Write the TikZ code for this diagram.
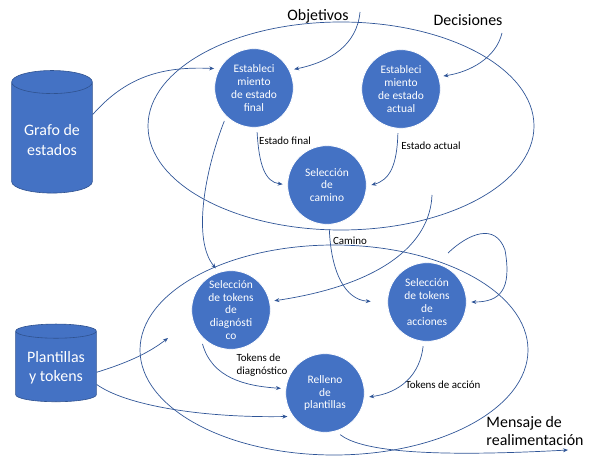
\documentclass[tikz,border=0pt]{standalone}
\usepackage{fontspec}
\setmainfont{Carlito}
\usepackage{tikz}
\usetikzlibrary{shapes.geometric,arrows.meta}

\definecolor{officeblue}{RGB}{68,114,196}
\definecolor{linkblue}{RGB}{47,85,151}
\definecolor{edgeblue}{RGB}{47,82,143}

\tikzset{
  proc/.style={circle,fill=officeblue,draw=white,line width=0.8pt,minimum size=79pt,
    inner sep=0pt,outer sep=5pt,text=white,align=center,font=\fontsize{11.5}{12.8}\selectfont},
  store/.style={cylinder,shape border rotate=90,fill=officeblue,draw=edgeblue,line width=0.6pt,
    text=white,align=center,font=\fontsize{16}{19.5}\selectfont,minimum width=81pt},
  link/.style={linkblue,line width=0.7pt,-{Stealth[length=5pt,width=4pt]}},
  lbl/.style={font=\fontsize{11}{13.5}\selectfont,align=left},
  big/.style={font=\fontsize{16}{19}\selectfont,align=left},
}

\begin{document}
\begin{tikzpicture}[x=1bp,y=-1bp]
\useasboundingbox (0,0) rectangle (592,457);

%% Groups
\draw[linkblue,line width=0.7pt] (341,126) ellipse [x radius=193,y radius=104];
\draw[linkblue,line width=0.7pt] (334,350) ellipse [x radius=194,y radius=105];

%% Stores
\node[store,minimum height=123pt,aspect=0.37] (grafo) at (52,140) {Grafo de\\estados};
\node[store,minimum height=78pt,aspect=0.22] (plantillas) at (56,368) {Plantillas\\y tokens};

%% Processes
\node[proc] (finalest) at (254,88) {Estableci\\miento\\de estado\\final};
\node[proc] (actualest) at (401,89) {Estableci\\miento\\de estado\\actual};
\node[proc] (camino) at (327,185) {Selección\\de\\camino};
\node[proc] (diagtok) at (231,310) {Selección\\de tokens\\de\\diagnósti\\co};
\node[proc] (acctok) at (427,302) {Selección\\de tokens\\de\\acciones};
\node[proc] (relleno) at (325,393) {Relleno\\de\\plantillas};

%% Labels
\node[big] (objetivos) at (318,16) {Objetivos};
\node[big] (decisiones) at (468,20) {Decisiones};
\node[big] (mensaje) at (535,431) {Mensaje de\\realimentación};
\node[lbl] (lblfinal) at (285,141) {Estado final};
\node[lbl] (lblactual) at (431,146) {Estado actual};
\node[lbl] (lblcamino) at (350,241) {Camino};
\node[lbl] (lbldiag) at (262,365) {Tokens de\\diagnóstico};
\node[lbl] (lblaccion) at (443,385) {Tokens de acción};

%% Free ends
\coordinate (objtail) at (360,12);
\coordinate (dectail) at (502,33);
\coordinate (pathtail) at (432,195);
\coordinate (looptail) at (448,253);
\coordinate (plantip) at (168,338);
\coordinate (msgtip) at (568,450);

%% Flows
\draw[link] (grafo.32) .. controls (125,78) and (160,66) .. (finalest.154);
\draw[link] (objtail) .. controls (357,45) and (330,62) .. (finalest.25);
\draw[link] (dectail) .. controls (496,58) and (470,72) .. (actualest.17);
\draw[link] (finalest.-86) .. controls (259,165) and (265,182) .. (camino.179);
\draw[link] (actualest.-94) .. controls (397,165) and (390,180) .. (camino.0);
\draw[link] (finalest.-132) .. controls (205,170) and (192,240) .. (diagtok.110);
\draw[link] (pathtail) .. controls (430,245) and (380,285) .. (diagtok.12);
\draw[link,shorten >=12pt] (camino.-87) .. controls (331,272) and (345,300) .. (acctok.180);
\draw[link] (looptail) .. controls (468,234) and (495,222) .. (505,250)
  .. controls (512,290) and (500,302) .. (acctok.east);
\draw[link] (acctok.-95) .. controls (420,375) and (400,393) .. (relleno.-5);
\draw[link] (diagtok.-130) .. controls (212,378) and (245,386) .. (relleno.174);
\draw[link] (plantillas.-6) .. controls (130,362) and (150,352) .. (plantip);
\draw[link] (plantillas.-22) .. controls (125,405) and (200,418) .. (relleno.-148);
\draw[link] (relleno.-70) .. controls (360,450) and (420,458) .. (msgtip);
\end{tikzpicture}
\end{document}
